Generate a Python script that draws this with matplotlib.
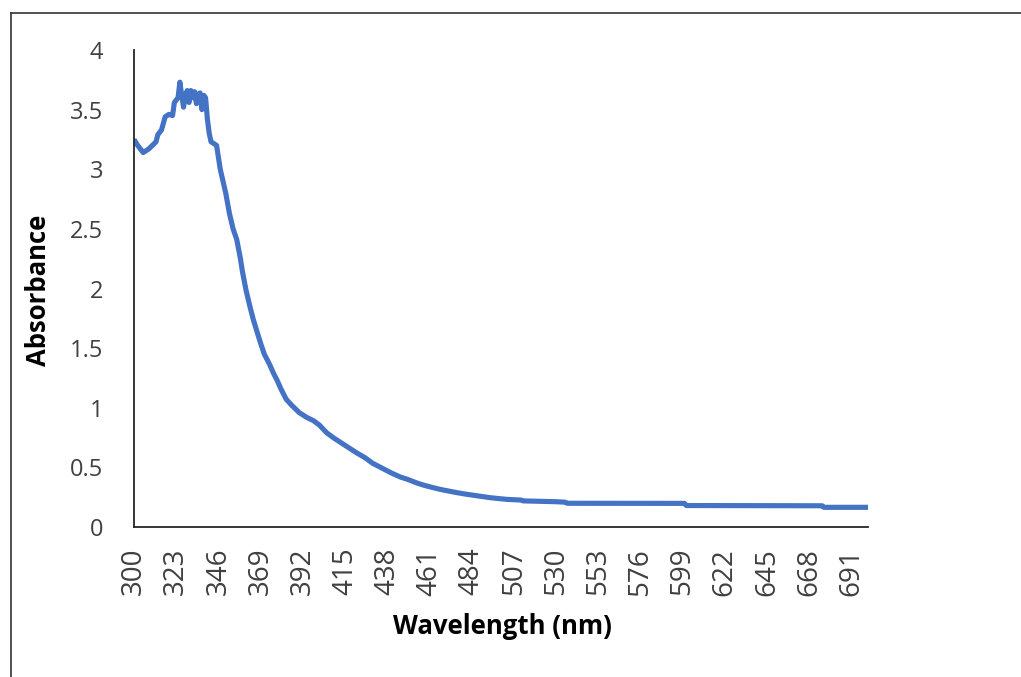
import matplotlib
matplotlib.use("Agg")
import matplotlib.pyplot as plt
from matplotlib.lines import Line2D

# Data
wavelength = [300, 302, 305, 308, 310, 312, 313, 315, 317, 319, 321, 322, 324, 325,
              326, 327, 328, 329, 330, 331, 332, 333, 334, 335, 336, 337, 338, 339,
              340, 341, 342, 344, 345, 347, 350, 352, 354, 356, 358, 359, 361, 363,
              365, 367, 369, 371, 374, 376, 378, 380, 383, 386, 390, 394, 398, 401,
              405, 409, 413, 417, 421, 426, 430, 435, 440, 445, 449, 454, 458, 463,
              467, 472, 476, 481, 485, 490, 494, 499, 503, 508, 511, 512, 530, 535,
              536, 600, 601, 675, 676, 700]
absorbance = [3.25, 3.20, 3.14, 3.17, 3.20, 3.23, 3.29, 3.33, 3.44, 3.46, 3.45, 3.56, 3.60, 3.73,
              3.62, 3.52, 3.62, 3.66, 3.56, 3.66, 3.60, 3.65, 3.55, 3.63, 3.64, 3.50, 3.62, 3.60,
              3.42, 3.30, 3.23, 3.21, 3.20, 3.00, 2.80, 2.63, 2.50, 2.41, 2.25, 2.15, 1.99, 1.86,
              1.74, 1.64, 1.54, 1.45, 1.36, 1.29, 1.23, 1.16, 1.07, 1.02, 0.96, 0.92, 0.89, 0.855,
              0.79, 0.745, 0.705, 0.665, 0.625, 0.58, 0.535, 0.495, 0.455, 0.42, 0.40, 0.37, 0.35, 0.33,
              0.315, 0.30, 0.288, 0.275, 0.266, 0.255, 0.246, 0.238, 0.232, 0.228, 0.226, 0.219, 0.212, 0.208,
              0.199, 0.198, 0.180, 0.178, 0.165, 0.165]

x_ticks = list(range(300, 692, 23))
y_ticks = [0, 0.5, 1, 1.5, 2, 2.5, 3, 3.5, 4]
y_tick_labels = ["0", "0.5", "1", "1.5", "2", "2.5", "3", "3.5", "4"]

W, H = 1021, 677
fig = plt.figure(figsize=(W / 100, H / 100), dpi=100)
ax = fig.add_axes([134 / W, 150 / H, 734 / W, 477 / H])

ax.plot(wavelength, absorbance, color="#4472C4", linewidth=3.7,
        solid_joinstyle="round", solid_capstyle="butt")

ax.set_xlim(300, 700)
ax.set_ylim(0, 4)
ax.set_xticks(x_ticks)
ax.set_xticklabels([str(t) for t in x_ticks], rotation=90,
                   fontfamily="Open Sans", fontsize=20, color="#404040")
ax.set_yticks(y_ticks)
ax.set_yticklabels(y_tick_labels, fontfamily="Open Sans", fontsize=17, color="#404040")
ax.tick_params(axis="x", length=0, pad=15)
ax.tick_params(axis="y", length=0, pad=22)

for s in ["top", "right"]:
    ax.spines[s].set_visible(False)
for s in ["left", "bottom"]:
    ax.spines[s].set_color("#262626")
    ax.spines[s].set_linewidth(1.3)

fig.text(38 / W, 1 - 290 / H, "Absorbance", rotation=90, ha="center", va="center",
         fontfamily="Open Sans", fontweight="bold", fontsize=18.5, color="black")
fig.text(502 / W, 1 - 627 / H, "Wavelength (nm)", ha="center", va="center",
         fontfamily="Open Sans", fontweight="bold", fontsize=18.5, color="black")

# outer frame (left and top edges visible in the reference)
fig.add_artist(Line2D([10.5 / W, 10.5 / W], [0, 1 - 12.7 / H], transform=fig.transFigure,
                      color="#333333", linewidth=1.2))
fig.add_artist(Line2D([10.5 / W, 1], [1 - 12.7 / H, 1 - 12.7 / H], transform=fig.transFigure,
                      color="#333333", linewidth=1.2))

fig.savefig("out.png", dpi=100)
